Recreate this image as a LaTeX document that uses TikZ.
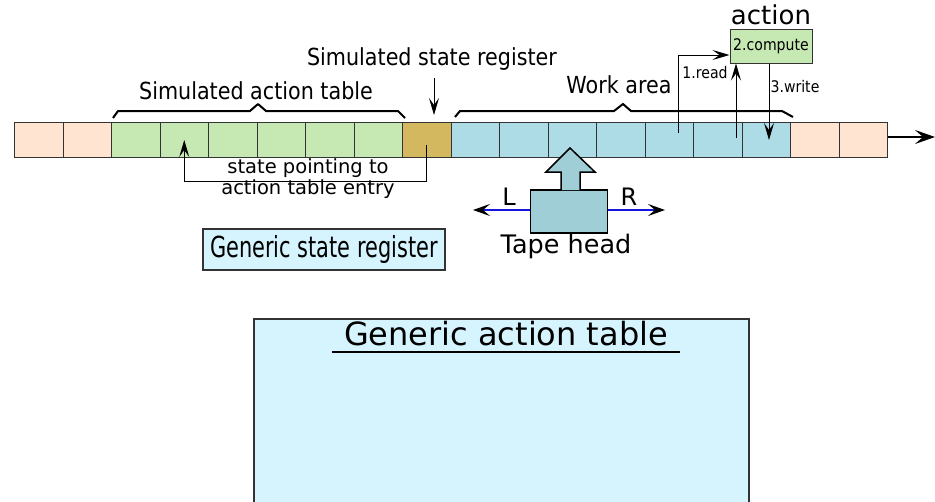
\documentclass[tikz,border=0pt]{standalone}
\usepackage{fontspec}
\setmainfont{DejaVu Sans}
\newfontfamily\condfont{DejaVu Sans}[FakeStretch=0.88]
\newfontfamily\narrowfont{DejaVu Sans}[FakeStretch=0.72]
\usetikzlibrary{positioning, arrows.meta}
\definecolor{peach}{HTML}{FFE4D2}
\definecolor{leaf}{HTML}{C6E8B2}
\definecolor{gold}{HTML}{D3B860}
\definecolor{sky}{HTML}{ADDCE7}
\definecolor{headblue}{HTML}{A0CED7}
\definecolor{pale}{HTML}{D5F4FE}
\definecolor{edge}{HTML}{333333}
\definecolor{lineblue}{RGB}{20,20,220}
\tikzset{
cell/.style={draw=edge, line width=1pt, minimum width=48.5pt, minimum height=35pt, inner sep=0pt, anchor=north west}, % one square of the tape
brace/.style={line width=2pt, line join=round}, % flat braces over the tape
flow/.style={-{Stealth[length=17pt, width=10pt, inset=7pt]}, line width=1pt}, % read / write arrows
move/.style={-{Stealth[length=17pt, width=12pt, inset=7pt, color=black]}, line width=2pt, draw=lineblue}, % head movement
biglabel/.style={font=\condfont\fontsize{23.5}{26}\selectfont, inner sep=0pt},
smalllabel/.style={font=\condfont\fontsize{16}{19}\selectfont, inner sep=0pt},
}

\begin{document}
\begin{tikzpicture}[x=1pt, y=-1pt]
    \useasboundingbox (0,0) rectangle (935,501);
    \clip (0,0) rectangle (935,501);

    % the tape
    \foreach \i/\col in {0/peach, 1/peach, 2/leaf, 3/leaf, 4/leaf, 5/leaf, 6/leaf, 7/leaf, 8/gold,
        9/sky, 10/sky, 11/sky, 12/sky, 13/sky, 14/sky, 15/sky, 16/peach, 17/peach}
        \node[cell, fill=\col] (c\i) at ({14+48.5*\i},122) {};
    \coordinate (tapeend) at (935,137);
    \draw[-{Stealth[length=20pt, width=14pt, inset=8pt]}, line width=2pt] (c17.east |- tapeend) -- (tapeend);

    % braces and their labels
    \draw[brace] (113,118) -- (118,111) -- (250,111) -- (258,104) -- (266,111) -- (398,111) -- (405,118);
    \node[biglabel] (simtable) at (256,91) {Simulated action table};
    \draw[brace] (455,117) -- (460,111) -- (614,111) -- (623,104) -- (631,111) -- (782,111) -- (793,117);
    \node[biglabel] (workarea) at (619,85) {Work area};

    \node[biglabel] (simstate) at (432,59) {Simulated state register};
    \coordinate (regtop) at (434,78);
    \coordinate (regtip) at (434,115);
    \draw[flow] (regtop) -- (regtip);

    % state pointing into the action table
    \draw[flow] ([yshift=-5pt]c8.center) -- ++(0,36) -| (c3.center);
    \node[align=center, inner sep=0pt, font=\fontsize{19.5}{21}\selectfont] (pointtxt) at (308,179)
        {state pointing to\\action table entry};

    % action
    \node[draw=edge, fill=leaf, line width=1pt, minimum width=82pt, minimum height=34pt, inner sep=0pt,
        font=\condfont\fontsize{16}{19}\selectfont] (compute) at (771,46) {2.compute};
    \node[inner sep=0pt, font=\fontsize{26}{28}\selectfont] (action) at (771,15) {action};
    \coordinate (readfrom) at (678,133);
    \coordinate (back) at (736,138);
    \coordinate (writeto) at (769,140);
    \draw[flow] (readfrom) |- ([yshift=-9pt]compute.west);
    \draw[flow] (back) -- (back |- compute.south);
    \draw[flow] (writeto |- compute.south) -- (writeto);
    \node[smalllabel] (readtxt) at (705,73) {1.read};
    \node[smalllabel] (writetxt) at (795,87) {3.write};

    % tape head
    \node[draw, fill=headblue, line width=1.5pt, minimum width=77pt, minimum height=43pt] (head) at (569,211.5) {};
    \draw[fill=headblue, line width=1.5pt, line join=miter] (561,190) -- (561,172) -- (546,172) -- (570,148)
        -- (595,172) -- (580,172) -- (580,190);
    \coordinate (leftend) at (473,210);
    \coordinate (rightend) at (665,210);
    \draw[move] (head.west |- leftend) -- (leftend);
    \draw[move] (head.east |- rightend) -- (rightend);
    \node[inner sep=0pt, font=\fontsize{24}{26}\selectfont] (ltxt) at (509,197) {L};
    \node[inner sep=0pt, font=\fontsize{24}{26}\selectfont] (rtxt) at (629,197) {R};
    \node[inner sep=0pt, font=\fontsize{25.5}{28}\selectfont] (headtxt) at (566,246) {Tape head};

    % generic parts
    \node[draw=edge, fill=pale, line width=1.5pt, minimum width=242pt, minimum height=41pt, inner sep=0pt,
        font=\narrowfont\fontsize{29}{32}\selectfont] (genstate) at (324,249.5) {Generic state register};
    \node[draw=edge, fill=pale, line width=1.5pt, minimum width=495pt, minimum height=200pt, anchor=north west] (gentable) at (253,318) {};
    \node[inner sep=0pt, font=\fontsize{32}{36}\selectfont] (gentitle) at (506,334) {Generic action table};
    \draw[line width=2pt] (332,352) -- (680,352);
\end{tikzpicture}
\end{document}
